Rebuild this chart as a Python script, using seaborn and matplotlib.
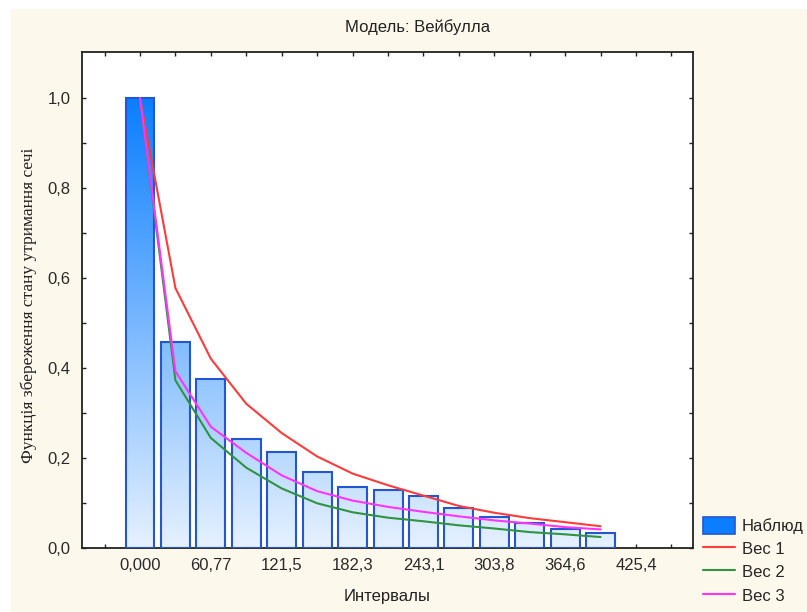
import numpy as np
import matplotlib
matplotlib.use('Agg')
import matplotlib.pyplot as plt
import seaborn as sns
from matplotlib.colors import LinearSegmentedColormap
from matplotlib.patches import Patch, Rectangle
from matplotlib.lines import Line2D

# data
intervals = [0.0, 30.38, 60.77, 91.15, 121.5, 151.9, 182.3, 212.7, 243.1, 273.5, 303.8, 334.2, 364.6, 395.0]
observed = [1.0, 0.459, 0.375, 0.243, 0.215, 0.169, 0.137, 0.130, 0.116, 0.089, 0.070, 0.056, 0.043, 0.035]
ves1 = [1.0, 0.578, 0.421, 0.321, 0.256, 0.204, 0.166, 0.140, 0.117, 0.094, 0.079, 0.067, 0.058, 0.049]
ves2 = [1.0, 0.373, 0.245, 0.179, 0.133, 0.100, 0.080, 0.068, 0.060, 0.051, 0.044, 0.036, 0.031, 0.025]
ves3 = [1.0, 0.393, 0.270, 0.212, 0.162, 0.127, 0.106, 0.092, 0.081, 0.071, 0.062, 0.055, 0.047, 0.042]

major_x = [0.0, 60.77, 121.5, 182.3, 243.1, 303.8, 364.6, 425.4]
major_x_labels = ['0,000', '60,77', '121,5', '182,3', '243,1', '303,8', '364,6', '425,4']
minor_x = [-30.38, 30.38, 91.15, 151.9, 212.7, 273.5, 334.2, 395.0, 455.8]
major_y = [0.0, 0.2, 0.4, 0.6, 0.8, 1.0]
major_y_labels = ['0,0', '0,2', '0,4', '0,6', '0,8', '1,0']

sns.set_style('white')
plt.rcParams['font.family'] = ['Liberation Sans', 'DejaVu Sans']

cream = '#FDF8EC'
fig = plt.figure(figsize=(8.07, 6.12), dpi=100, facecolor='white')
fig.add_artist(Rectangle((11 / 807, 0), 1, 1 - 9 / 612, transform=fig.transFigure,
                         facecolor=cream, edgecolor='none', zorder=-10))

ax = fig.add_axes([81.7 / 807, 1 - 548.3 / 612, (693.3 - 81.7) / 807, (548.3 - 51.7) / 612])
ax.set_facecolor('white')

xmin, xmax = -50.0, 474.5
ymin, ymax = 0.0, 1.103

# bars
sns.barplot(x=intervals, y=observed, native_scale=True, width=0.82, errorbar=None,
            color='#8CC4FA', ax=ax, zorder=2)
bars = list(ax.patches)

# vertical gradient fill clipped to each bar
grad_cmap = LinearSegmentedColormap.from_list('grad', ['#E6F1FE', '#0A7EFF'])
grad = np.linspace(0, 1, 256).reshape(-1, 1)
for b in bars:
    b.set_facecolor('none')
    b.set_edgecolor('#2456D0')
    b.set_linewidth(1.5)
    b.set_zorder(3)
    im = ax.imshow(grad, extent=[xmin, xmax, 0, 1.0], origin='lower', cmap=grad_cmap,
                   aspect='auto', zorder=1, interpolation='bilinear')
    im.set_clip_path(b)

# fitted curves
sns.lineplot(x=intervals, y=ves1, color='#FF3B3B', lw=1.5, ax=ax, zorder=4)
sns.lineplot(x=intervals, y=ves2, color='#2E9440', lw=1.5, ax=ax, zorder=4)
sns.lineplot(x=intervals, y=ves3, color='#FF33FF', lw=1.5, ax=ax, zorder=4)

ax.set_xlim(xmin, xmax)
ax.set_ylim(ymin, ymax)

ax.set_xticks(major_x)
ax.set_xticklabels(major_x_labels)
ax.set_xticks(minor_x, minor=True)
ax.set_yticks(major_y)
ax.set_yticklabels(major_y_labels)
ax.set_yticks(np.array([0.1, 0.3, 0.5, 0.7, 0.9]), minor=True)
ax.tick_params(which='both', direction='in', top=True, right=True, bottom=True, left=True,
               length=3, width=1, color='#222222')
ax.tick_params(axis='x', which='major', pad=7, labelsize=12, labelcolor='#2a2a2a')
ax.tick_params(axis='y', which='major', pad=8, labelsize=12, labelcolor='#2a2a2a')
for s in ax.spines.values():
    s.set_visible(True)
    s.set_color('#222222')
    s.set_linewidth(1.3)

ax.set_xlabel('')
ax.set_ylabel('')

fig.text(418 / 807, 1 - 27 / 612, 'Модель: Вейбулла', ha='center', va='center',
         fontsize=12, color='#222222')
fig.text(387.5 / 807, 1 - 597 / 612, 'Интервалы', ha='center', va='center',
         fontsize=12, color='#222222')
fig.text(29 / 807, 1 - 305 / 612, 'Функція збереження стану утримання сечі', rotation=90,
         ha='center', va='center', fontsize=12.5, color='#222222',
         family=['Liberation Serif', 'DejaVu Serif'])

handles = [Patch(facecolor='#0A7EFF', edgecolor='#2456D0', linewidth=1.2),
           Line2D([], [], color='#FF3B3B', lw=1.5),
           Line2D([], [], color='#2E9440', lw=1.5),
           Line2D([], [], color='#FF33FF', lw=1.5)]
labels = ['Наблюд', 'Вес 1', 'Вес 2', 'Вес 3']
fig.legend(handles, labels, loc='upper left', bbox_to_anchor=(703 / 807, 1 - 517 / 612),
           frameon=False, borderpad=0, borderaxespad=0, handlelength=1.9, handleheight=1.15,
           handletextpad=0.42, labelspacing=0.38, fontsize=12)

fig.savefig('out.png', dpi=100, facecolor=fig.get_facecolor())
